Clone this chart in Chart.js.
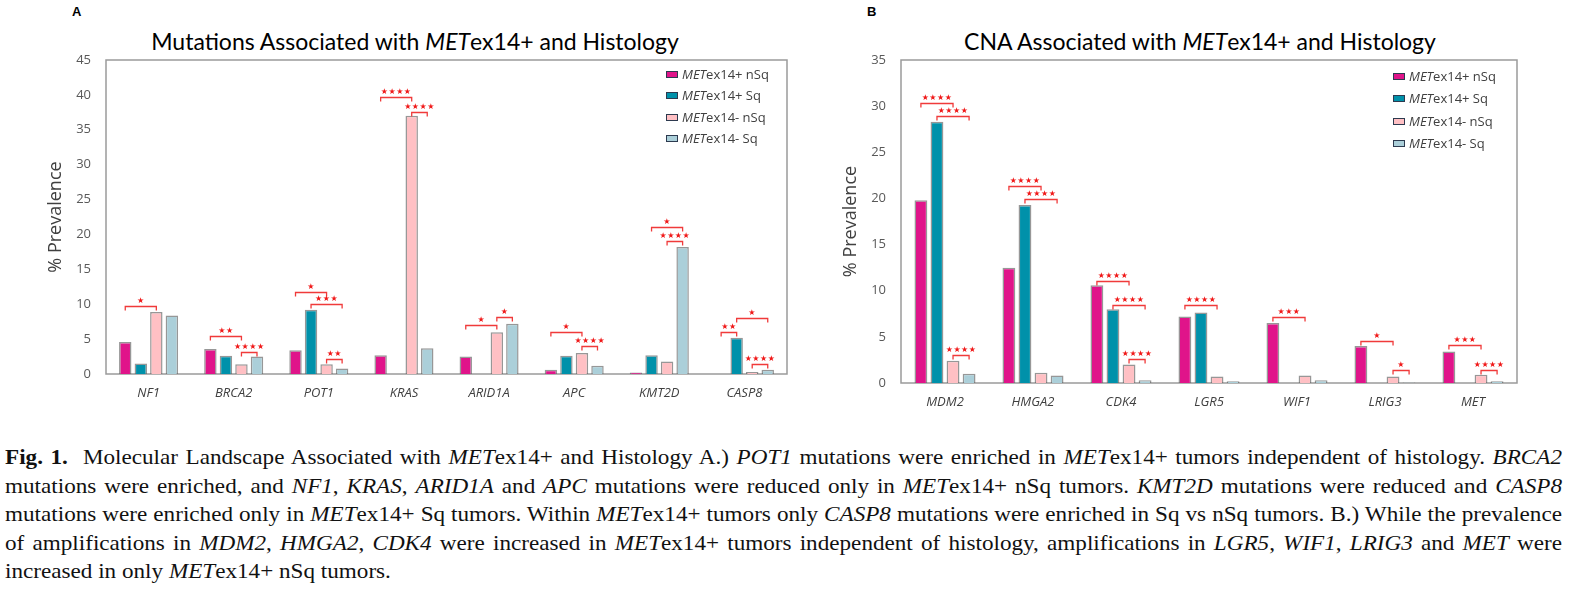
<!DOCTYPE html>
<html>
<head>
<meta charset="utf-8">
<script src="https://cdn.jsdelivr.net/npm/chart.js@4.4.1/dist/chart.umd.min.js"></script>
<style>
  html, body { margin:0; padding:0; background:#fff; }
  body { width:1573px; height:591px; position:relative; overflow:hidden; }
  .abs { position:absolute; }
  .panel { font-family:"Liberation Sans", Arial, sans-serif; font-weight:bold; font-size:13px; color:#000; }
  .title { font-family:Lato, "Open Sans", sans-serif; font-size:23px; line-height:24px; color:#000; text-align:center; white-space:nowrap; }
  .leg { font-family:"Open Sans", sans-serif; font-size:13px; color:#404040; white-space:nowrap; line-height:16px; }
  .leg span.sw { display:inline-block; width:10px; height:5px; border:1.5px solid #2d3a4f; vertical-align:middle; margin-right:4px; position:relative; top:-1px; }
  #cap { position:absolute; left:5px; top:443px; font-family:"Liberation Serif", "Times New Roman", serif; font-size:22px; line-height:28.6px; color:#111; transform-origin:0 0; }
  #cap .ln { white-space:nowrap; }
  #cap .j { text-align:justify; text-align-last:justify; }
</style>
</head>
<body>
<div class="abs panel" style="left:72px;top:4px;">A</div>
<div class="abs panel" style="left:867px;top:4px;">B</div>
<div class="abs title" style="left:0px;top:29px;width:830px;">Mutations Associated with <i>MET</i>ex14+ and Histology</div>
<div class="abs title" style="left:827px;top:29px;width:746px;">CNA Associated with <i>MET</i>ex14+ and Histology</div>

<canvas id="cA" class="abs" width="800" height="410" style="left:0;top:0;"></canvas>
<canvas id="cB" class="abs" width="773" height="420" style="left:800px;top:0;"></canvas>

<div id="legA"></div>
<div id="legB"></div>

<div id="cap">
  <div class="ln j"><b>Fig. 1.</b>&nbsp; Molecular Landscape Associated with <i>MET</i>ex14+ and Histology A.) <i>POT1</i> mutations were enriched in <i>MET</i>ex14+ tumors independent of histology. <i>BRCA2</i></div>
  <div class="ln j">mutations were enriched, and <i>NF1</i>, <i>KRAS</i>, <i>ARID1A</i> and <i>APC</i> mutations were reduced only in <i>MET</i>ex14+ nSq tumors. <i>KMT2D</i> mutations were reduced and <i>CASP8</i></div>
  <div class="ln j">mutations were enriched only in <i>MET</i>ex14+ Sq tumors. Within <i>MET</i>ex14+ tumors only <i>CASP8</i> mutations were enriched in Sq vs nSq tumors. B.) While the prevalence</div>
  <div class="ln j">of amplifications in <i>MDM2</i>, <i>HMGA2</i>, <i>CDK4</i> were increased in <i>MET</i>ex14+ tumors independent of histology, amplifications in <i>LGR5</i>, <i>WIF1</i>, <i>LRIG3</i> and <i>MET</i> were</div>
  <div class="ln">increased in only <i>MET</i>ex14+ nSq tumors.</div>
</div>

<script>
// ---------- DATA ----------
const seriesNames = ['ex14+ nSq', 'ex14+ Sq', 'ex14- nSq', 'ex14- Sq'];

// Panel A: mutations
const categoriesA = ['NF1', 'BRCA2', 'POT1', 'KRAS', 'ARID1A', 'APC', 'KMT2D', 'CASP8'];
const posNsqA = [4.6, 3.6, 3.4, 2.7, 2.5, 0.6, 0.2, 0];
const posSqA  = [1.5, 2.6, 9.2, 0,   0,   2.6, 2.7, 5.2];
const negNsqA = [8.9, 1.4, 1.4, 37.0, 6.0, 3.0, 1.8, 0.3];
const negSqA  = [8.4, 2.5, 0.8, 3.7, 7.2, 1.2, 18.2, 0.6];
const ticksA  = [0, 5, 10, 15, 20, 25, 30, 35, 40, 45];

// significance brackets A (category, from series, to series, level, stars)
const sigCatA   = [0, 1, 1, 2, 2, 2, 3, 3, 4, 4, 5, 5, 6, 6, 7, 7, 7];
const sigFromA  = [0, 0, 2, 0, 1, 2, 0, 2, 0, 2, 0, 2, 1, 2, 0, 1, 2];
const sigToA    = [2, 2, 3, 2, 3, 3, 2, 3, 2, 3, 2, 3, 3, 3, 1, 3, 3];
const sigLevelA = [9.8, 5.4, 3.2, 11.8, 10.0, 2.2, 39.7, 37.6, 7.0, 8.2, 6.0, 4.0, 21.1, 19.0, 6.0, 8.0, 1.4];
const sigStarsA = [1, 2, 4, 1, 3, 2, 4, 4, 1, 1, 1, 4, 1, 4, 2, 1, 4];

// Panel B: CNA
const categoriesB = ['MDM2', 'HMGA2', 'CDK4', 'LGR5', 'WIF1', 'LRIG3', 'MET'];
const posNsqB = [19.8, 12.5, 10.6, 7.2, 6.5, 4.0, 3.4];
const posSqB  = [28.3, 19.3, 8.0, 7.65, 0, 0, 0];
const negNsqB = [2.4, 1.1, 2.0, 0.7, 0.8, 0.7, 0.9];
const negSqB  = [1.0, 0.8, 0.3, 0.2, 0.3, 0.05, 0.2];
const ticksB  = [0, 5, 10, 15, 20, 25, 30, 35];

const sigCatB   = [0, 0, 0, 1, 1, 2, 2, 2, 3, 4, 5, 5, 6, 6];
const sigFromB  = [0, 1, 2, 0, 1, 0, 1, 2, 0, 0, 0, 2, 0, 2];
const sigToB    = [2, 3, 3, 2, 3, 2, 3, 3, 2, 2, 2, 3, 2, 3];
const sigLevelB = [30.3, 28.9, 3.0, 21.4, 19.9, 11.1, 8.5, 2.6, 8.4, 7.1, 4.5, 1.4, 4.1, 1.4];
const sigStarsB = [4, 4, 4, 4, 4, 4, 4, 4, 4, 3, 1, 1, 3, 4];

// ---------- STYLE ----------
const colors = ['#E0148A', '#0091AA', '#FFC0C4', '#ABCFD9'];
const borderCol = 'rgba(95,95,95,0.65)';
const tickFont = { family: 'Open Sans', size: 13 };
const catFont = { family: 'Open Sans', size: 13, style: 'italic' };

function buildLegend(el, left, top, step) {
  let html = '';
  seriesNames.forEach((n, i) => {
    html += `<div class="abs leg" style="left:${left}px;top:${top + i * step - 8}px;"><span class="sw" style="background:${colors[i]}"></span><i>MET</i>${n}</div>`;
  });
  document.getElementById(el).innerHTML = html;
}
buildLegend('legA', 666, 74, 21.4);
buildLegend('legB', 1393, 76, 22.3);

const frameAndSig = {
  id: 'frameAndSig',
  beforeDatasetsDraw(chart) {
    const { ctx, chartArea: a } = chart;
    ctx.save();
    ctx.strokeStyle = '#9a9a9a';
    ctx.lineWidth = 1.5;
    ctx.strokeRect(a.left, a.top, a.right - a.left, a.bottom - a.top);
    ctx.restore();
  },
  afterDatasetsDraw(chart) {
    const s = chart.options.plugins.frameAndSig;
    const { ctx } = chart;
    const y = chart.scales.y;
    ctx.save();
    ctx.strokeStyle = '#F03A3A';
    ctx.fillStyle = '#F01818';
    ctx.lineWidth = 1.3;
    ctx.font = '8px "DejaVu Sans"';
    ctx.textAlign = 'center';
    ctx.textBaseline = 'middle';
    try { ctx.letterSpacing = '0.5px'; } catch (e) {}
    for (let k = 0; k < s.cat.length; k++) {
      const x1 = chart.getDatasetMeta(s.from[k]).data[s.cat[k]].x;
      const x2 = chart.getDatasetMeta(s.to[k]).data[s.cat[k]].x;
      const py = Math.round(y.getPixelForValue(s.level[k])) + 0.5;
      ctx.beginPath();
      ctx.moveTo(x1, py + 4);
      ctx.lineTo(x1, py);
      ctx.lineTo(x2, py);
      ctx.lineTo(x2, py + 4);
      ctx.stroke();
      ctx.fillText('\u2605'.repeat(s.stars[k]), (x1 + x2) / 2, py - 6);
    }
    ctx.restore();
  }
};

function makeChart(id, cats, vals, ticks, max, sig, yAxisW, titlePad) {
  return new Chart(document.getElementById(id), {
    type: 'bar',
    data: {
      labels: cats,
      datasets: vals.map((v, i) => ({
        label: 'MET' + seriesNames[i],
        data: v,
        backgroundColor: colors[i],
        borderColor: borderCol,
        borderWidth: 1.5,
        categoryPercentage: 0.73,
        barPercentage: 0.8
      }))
    },
    options: {
      responsive: false,
      animation: false,
      devicePixelRatio: 1,
      layout: { padding: sig.padding },
      plugins: {
        legend: { display: false },
        tooltip: { enabled: false },
        frameAndSig: sig
      },
      scales: {
        x: {
          grid: { display: false, drawTicks: false },
          border: { display: false },
          ticks: { font: catFont, color: '#404040', padding: 11 },
          afterFit(sc) { sc.height = 30; }
        },
        y: {
          min: 0, max: max,
          afterBuildTicks(sc) { sc.ticks = ticks.map(v => ({ value: v })); },
          grid: { display: false, drawTicks: false },
          border: { display: false },
          ticks: { font: tickFont, color: '#595959', padding: 15 },
          title: { display: true, text: '% Prevalence', font: { family: 'Open Sans', size: 18 }, color: '#404040', padding: { top: titlePad, bottom: 0 } },
          afterFit(sc) { sc.width = yAxisW; }
        }
      }
    },
    plugins: [frameAndSig]
  });
}

makeChart('cA', categoriesA, [posNsqA, posSqA, negNsqA, negSqA], ticksA, 45,
  { cat: sigCatA, from: sigFromA, to: sigToA, level: sigLevelA, stars: sigStarsA,
    padding: { left: 0, top: 60, right: 13, bottom: 6 } }, 106, 45);
makeChart('cB', categoriesB, [posNsqB, posSqB, negNsqB, negSqB], ticksB, 35,
  { cat: sigCatB, from: sigFromB, to: sigToB, level: sigLevelB, stars: sigStarsB,
    padding: { left: 0, top: 60, right: 56, bottom: 7 } }, 101, 40);

// ---------- caption fitting ----------
(function fitCaption() {
  const cap = document.getElementById('cap');
  const lines = Array.from(cap.querySelectorAll('.ln'));
  const widths = lines.map(l => {
    const sp = document.createElement('span');
    sp.innerHTML = l.innerHTML;
    sp.style.whiteSpace = 'nowrap';
    sp.style.visibility = 'hidden';
    sp.style.position = 'absolute';
    cap.appendChild(sp);
    const w = sp.getBoundingClientRect().width;
    cap.removeChild(sp);
    return w;
  });
  const full = 1557;
  let s = 10;
  for (let i = 0; i < 4; i++) s = Math.min(s, (full - 6) / widths[i]);
  s = Math.min(s, 1.08);
  cap.style.width = (full / s) + 'px';
  cap.style.transform = `scaleX(${s})`;
})();
</script>
</body>
</html>
